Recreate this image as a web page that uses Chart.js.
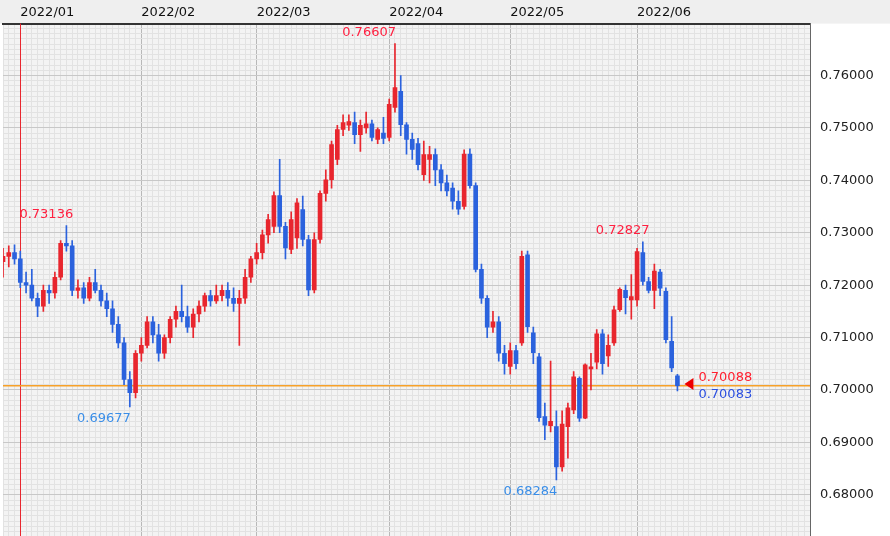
<!DOCTYPE html>
<html>
<head>
<meta charset="utf-8">
<script src="https://cdn.jsdelivr.net/npm/chart.js@4.4.1/dist/chart.umd.min.js"></script>
<style>
  html, body { margin: 0; padding: 0; background: #fff; overflow: hidden; }
  #wrap { width: 890px; height: 554px; }
</style>
</head>
<body>
<div id="wrap"><canvas id="fx"></canvas></div>
<script>
// trading days, Dec 2021 .. Jun 2022
const decDays = [29, 30, 31]
const janDays = [3, 4, 5, 6, 7, 10, 11, 12, 13, 14, 17, 18, 19, 20, 21, 24, 25, 26, 27, 28, 31]
const febDays = [1, 2, 3, 4, 7, 8, 9, 10, 11, 14, 15, 16, 17, 18, 21, 22, 23, 24, 25, 28]
const marDays = [1, 2, 3, 4, 7, 8, 9, 10, 11, 14, 15, 16, 17, 18, 21, 22, 23, 24, 25, 28, 29, 30, 31]
const aprDays = [1, 4, 5, 6, 7, 8, 11, 12, 13, 14, 15, 18, 19, 20, 21, 22, 25, 26, 27, 28, 29]
const mayDays = [2, 3, 4, 5, 6, 9, 10, 11, 12, 13, 16, 17, 18, 19, 20, 23, 24, 25, 26, 27, 30, 31]
const junDays = [1, 2, 3, 6, 7, 8, 9, 10]
const monthTicks = ['2022/01', '2022/02', '2022/03', '2022/04', '2022/05', '2022/06']

// [open, high, low, close]
const candles = [
  [.7245,.7270,.7215,.7255],[.7255,.7275,.7235,.7262],[.7262,.7277,.7240,.7250],
  // Jan
  [.7250,.7265,.7195,.7205],[.7205,.7225,.7185,.7200],[.7200,.7230,.7170,.7175],[.7175,.7185,.7140,.7160],
  [.7160,.7200,.7150,.7190],[.7190,.7200,.7165,.7185],[.7185,.7225,.7175,.7215],[.7215,.7285,.7210,.7280],
  [.7280,.73136,.7265,.7275],[.7275,.7285,.7180,.7190],[.7190,.7210,.7175,.7195],[.7195,.7205,.7165,.7175],
  [.7175,.7215,.7170,.7205],[.7205,.7230,.7185,.7190],[.7190,.7200,.7160,.7170],[.7170,.7185,.7140,.7155],
  [.7155,.7170,.7110,.7125],[.7125,.7140,.7080,.7090],[.7090,.7100,.7010,.7020],[.7020,.7035,.69677,.6995],
  [.6995,.7075,.6985,.7070],
  // Feb
  [.7070,.7100,.7055,.7085],[.7085,.7140,.7080,.7130],[.7130,.7140,.7090,.7105],[.7105,.7125,.7055,.7070],
  [.7070,.7105,.7060,.7100],[.7100,.7140,.7090,.7135],[.7135,.7160,.7120,.7150],[.7150,.7200,.7130,.7140],
  [.7140,.7160,.7110,.7120],[.7120,.7155,.7100,.7145],[.7145,.7170,.7130,.7160],[.7160,.7185,.7150,.7180],
  [.7180,.7190,.7160,.7170],[.7170,.7200,.7165,.7180],[.7180,.7200,.7170,.7190],[.7190,.7205,.7160,.7175],
  [.7175,.7195,.7150,.7165],[.7165,.7190,.7085,.7175],[.7175,.7230,.7165,.7215],[.7215,.7255,.7205,.7250],
  // Mar
  [.7250,.7280,.7240,.7262],[.7262,.7305,.7250,.7296],[.7296,.7335,.7280,.7325],[.7312,.7378,.7300,.7371],
  [.7371,.7440,.7300,.7312],[.7312,.7320,.7250,.7271],[.7268,.7340,.7260,.7325],[.7290,.7365,.7270,.7357],
  [.7344,.7370,.7275,.7287],[.7287,.7295,.7180,.7191],[.7191,.7300,.7185,.7287],[.7287,.7380,.7280,.7375],
  [.7375,.7420,.7360,.7401],[.7401,.7475,.7385,.7468],[.7440,.7505,.7430,.7497],[.7497,.7525,.7485,.7510],
  [.7505,.7525,.7495,.7512],[.7510,.7530,.7470,.7487],[.7487,.7515,.7455,.7505],[.7500,.7530,.7490,.7508],
  [.7508,.7515,.7475,.7482],[.7478,.7500,.7470,.7497],[.7490,.7520,.7470,.7480],
  // Apr
  [.7482,.7555,.7475,.7545],[.7539,.76607,.7530,.7577],[.7570,.7600,.7485,.7506],[.7506,.7510,.7450,.7478],
  [.7478,.7490,.7440,.7459],[.7470,.7480,.7420,.7430],[.7411,.7475,.7400,.7449],[.7440,.7465,.7395,.7449],
  [.7449,.7460,.7390,.7420],[.7420,.7430,.7380,.7395],[.7395,.7410,.7370,.7380],[.7385,.7395,.7345,.7360],
  [.7360,.7380,.7335,.7345],[.7350,.7458,.7345,.7450],[.7450,.7460,.7385,.7390],[.7390,.7395,.7225,.7230],
  [.7230,.7240,.7165,.7175],[.7175,.7180,.7100,.7120],[.7120,.7150,.7110,.7130],[.7130,.7140,.7055,.7070],
  [.7070,.7085,.7030,.7050],
  // May
  [.7045,.7090,.7030,.7075],[.7075,.7085,.7040,.7050],[.7090,.7265,.7085,.7255],[.7258,.7265,.7110,.7121],
  [.7109,.7120,.7050,.7071],[.7063,.7070,.6940,.6947],[.6949,.6975,.6905,.6933],[.6932,.7055,.6920,.6940],
  [.6930,.6960,.68284,.6853],[.6853,.6960,.6845,.6935],[.6930,.6975,.6870,.6966],[.6962,.7035,.6955,.7025],
  [.7022,.7025,.6940,.6946],[.6946,.7050,.6945,.7048],[.7040,.7070,.7000,.7044],[.7053,.7115,.7040,.7107],
  [.7107,.7115,.7030,.7050],[.7065,.7105,.7045,.7085],[.7090,.7160,.7085,.7153],[.7153,.7195,.7150,.7192],
  [.7190,.7200,.7145,.7176],[.7172,.7220,.7135,.7178],
  // Jun
  [.7172,.7270,.7160,.7264],[.7262,.72827,.7200,.7207],[.7207,.7215,.7185,.7190],[.7190,.7240,.7155,.7227],
  [.7225,.7230,.7180,.7194],[.7188,.7195,.7090,.7096],[.7093,.7140,.7035,.7042],[.7027,.7030,.6998,.70083]
]
const askPrice = 0.70088
const bidPrice = 0.70083
const totalSlots = 141

const RED = '#e8262e', BLUE = '#2b62dd'

const labels = []
const monthStart = []
;[['2021/12', decDays], ['2022/01', janDays], ['2022/02', febDays], ['2022/03', marDays],
  ['2022/04', aprDays], ['2022/05', mayDays], ['2022/06', junDays]].forEach(([m, days], mi) => {
  days.forEach((d, i) => {
    if (i === 0 && mi > 0) monthStart.push(labels.length)
    labels.push(m + '/' + String(d).padStart(2, '0'))
  })
})
while (labels.length < totalSlots) labels.push('')

const isUp = i => candles[i][3] >= candles[i][0]
const candleColor = ctx => (candles[ctx.dataIndex] && isUp(ctx.dataIndex)) ? RED : BLUE

// labels for highs and lows
const marks = [
  { i: 12, v: .73136, up: true }, { i: 22, v: .69677, up: false },
  { i: 68, v: .76607, up: true }, { i: 96, v: .68284, up: false },
  { i: 112, v: .72827, up: true }
]

const overlay = {
  id: 'overlay',
  beforeDraw(chart) {
    const { ctx, chartArea: a } = chart
    ctx.save()
    ctx.fillStyle = '#f3f3f3'
    ctx.fillRect(a.left, a.top, a.right - a.left, a.bottom - a.top)
    ctx.fillStyle = '#efefef'
    ctx.fillRect(0, 0, 890, a.top)
    ctx.restore()
  },
  beforeDatasetsDraw(chart) {
    const { ctx, chartArea: a, scales: { x, y } } = chart
    ctx.save()
    // red cursor line
    ctx.fillStyle = RED
    ctx.fillRect(Math.round(x.getPixelForValue(3)), a.top, 1, a.bottom - a.top)
    // current price line
    const py = Math.round(y.getPixelForValue(askPrice))
    ctx.fillStyle = '#f7a128'
    ctx.fillRect(a.left, py, a.right - a.left, 1.5)
    ctx.restore()
  },
  afterDraw(chart) {
    const { ctx, scales: { x, y } } = chart
    ctx.save()
    const py = Math.round(y.getPixelForValue(askPrice))
    // marker triangle
    const lx = x.getPixelForValue(candles.length - 1) + 7
    ctx.fillStyle = '#ee0000'
    ctx.beginPath(); ctx.moveTo(lx, py - 1); ctx.lineTo(lx + 9, py - 7); ctx.lineTo(lx + 9, py + 5); ctx.fill()
    ctx.font = '13px "DejaVu Sans", sans-serif'
    ctx.textAlign = 'left'
    ctx.textBaseline = 'middle'
    ctx.fillStyle = '#ff2030'
    ctx.fillText(askPrice.toFixed(5), lx + 14, py - 7)
    ctx.fillStyle = '#2b4fe0'
    ctx.fillText(bidPrice.toFixed(5), lx + 14, py + 10)
    // high / low labels
    ctx.textAlign = 'right'
    marks.forEach(m => {
      const mx = x.getPixelForValue(m.i) + 1
      const my = y.getPixelForValue(m.v)
      ctx.fillStyle = m.up ? '#ff2040' : '#3a8ee8'
      ctx.fillText(m.v.toFixed(5), mx, m.up ? my - 11 : my + 12)
    })
    ctx.restore()
  }
}

new Chart(document.getElementById('fx'), {
  type: 'bar',
  data: {
    labels: labels,
    datasets: [
      {
        data: candles.map(c => [c[2], c[1]]),
        backgroundColor: candleColor,
        barThickness: 1,
        grouped: false
      },
      {
        data: candles.map(c => [c[0], c[3]]),
        backgroundColor: candleColor,
        barThickness: 4,
        minBarLength: 2,
        grouped: false
      }
    ]
  },
  options: {
    responsive: true,
    maintainAspectRatio: false,
    animation: false,
    layout: { padding: { top: 2 } },
    plugins: { legend: { display: false }, tooltip: { enabled: false } },
    scales: {
      x: {
        position: 'top',
        offset: false,
        border: { color: '#333', width: 2 },
        grid: {
          offset: false,
          drawTicks: false,
          color: ctx => monthStart.includes(ctx.index) ? '#b8b8b8' : '#e2e2e2'
        },
        ticks: {
          autoSkip: false,
          maxRotation: 0,
          align: 'start',
          padding: 3,
          color: '#111',
          font: { family: '"DejaVu Sans", sans-serif', size: 13 },
          callback: (v, i) => {
            const k = monthStart.indexOf(i)
            return k >= 0 ? monthTicks[k] : ''
          }
        }
      },
      y: {
        position: 'right',
        min: 0.6721,
        max: 0.7699,
        border: { color: '#666', width: 1 },
        afterFit: s => { s.width = 80 },
        afterBuildTicks: s => {
          const t = []
          for (let k = 673; k <= 769; k++) t.push({ value: k / 1000 })
          s.ticks = t
        },
        grid: {
          drawTicks: false,
          color: ctx => (Math.round(ctx.tick.value * 1000) % 10 === 0) ? '#c8c8c8' : '#e2e2e2'
        },
        ticks: {
          autoSkip: false,
          padding: 10,
          color: '#222',
          font: { family: '"DejaVu Sans", sans-serif', size: 13 },
          callback: v => (Math.round(v * 1000) % 10 === 0) ? v.toFixed(5) : ''
        }
      }
    }
  },
  plugins: [overlay]
})
</script>
</body>
</html>
